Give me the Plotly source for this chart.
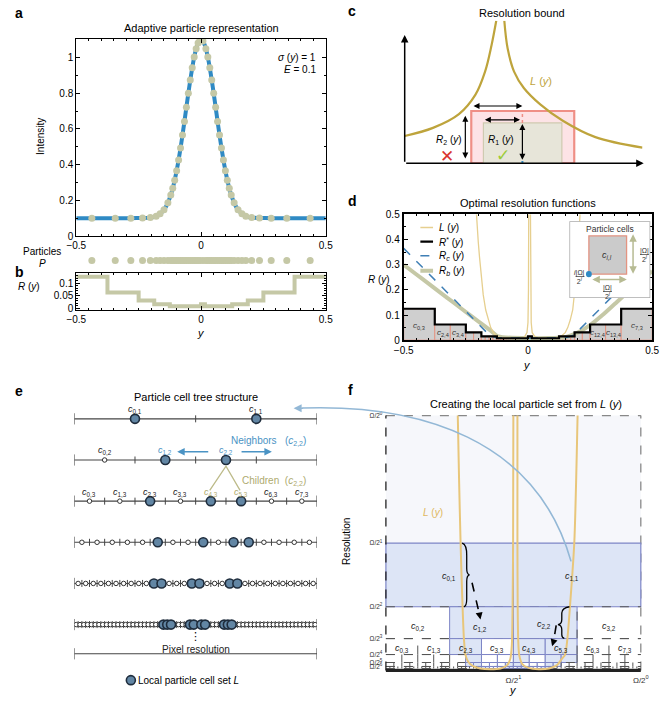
import plotly.graph_objects as go

W, H = 668, 704
FONT = "Liberation Sans, Arial, Helvetica, sans-serif"
BLUE = "#2f8ac4"
TAN = "#c5c8a6"
GOLD = "#bea43c"
LGOLD = "#e6cf8f"
CELLBLUE = "#dde5f6"
CELLEDGE = "#7d85c6"
DOTBLUE = "#6286a4"
NAVY = "#1f2d3d"
TXTBLUE = "#4a93c4"
TXTTAN = "#aeaa6e"

# ---------------- Panel a / b data ----------------
particle_pos = [-0.4375, -0.3438, -0.2813, -0.2344, -0.2031, -0.1797, -0.1641, -0.1484, -0.1328,
                -0.1211, -0.1133, -0.1055, -0.0977, -0.0898, -0.0820, -0.0742, -0.0664, -0.0586,
                -0.0508, -0.0430, -0.0352, -0.0273, -0.0195, -0.0117, -0.0039, 0.0078,
                0.0195, 0.0273, 0.0352, 0.0430, 0.0508, 0.0586, 0.0664, 0.0742, 0.0820, 0.0898,
                0.0977, 0.1055, 0.1133, 0.1211, 0.1328, 0.1484, 0.1641, 0.1797, 0.2031, 0.2344,
                0.2813, 0.3438, 0.4375]
particle_int = [0.100, 0.100, 0.100, 0.101, 0.103, 0.111, 0.124, 0.147, 0.186,
                0.230, 0.268, 0.313, 0.366, 0.426, 0.493, 0.566, 0.642, 0.721,
                0.799, 0.874, 0.942, 1.002, 1.049, 1.081, 1.098, 1.092,
                1.049, 1.002, 0.942, 0.874, 0.799, 0.721, 0.642, 0.566, 0.493, 0.426,
                0.366, 0.313, 0.268, 0.230, 0.186, 0.147, 0.124, 0.111, 0.103, 0.101,
                0.100, 0.100, 0.100]
baseline_ends_x = [-0.5, 0.5]
baseline_ends_v = [0.1, 0.1]

b_edges = [-0.5, -0.375, -0.25, -0.1875, -0.125, 0.0, 0.015625, 0.125, 0.1875, 0.25, 0.375, 0.5]
b_R = [0.125, 0.0625, 0.03125, 0.015625, 0.0078, 0.015625, 0.0078, 0.015625, 0.03125, 0.0625, 0.125]

# ---------------- Panel c (schematic units) ----------------
c_L_left_x = [0.0, 1.19, 2.28, 2.97, 3.38, 3.65, 3.85]
c_L_left_y = [1.15, 1.49, 2.07, 2.88, 3.86, 4.96, 6.0]
c_L_right_x = [4.19, 4.33, 4.6, 5.01, 5.7, 6.65, 8.02, 10.0]
c_L_right_y = [6.0, 4.83, 3.86, 3.17, 2.48, 1.79, 1.1, 0.66]
c_cell2 = [2.8, 7.13, 2.2]    # x0, x1, height (R2)
c_cell1 = [3.31, 6.61, 1.7]   # x0, x1, height (R1)
c_ypos = 4.95

# ---------------- Panel d ----------------
d_L_y = [-0.215, -0.21, -0.205, -0.2, -0.195, -0.19, -0.185, -0.18, -0.17, -0.16, -0.15, -0.14, -0.13,
         -0.12, -0.11, -0.09, -0.06, -0.03, -0.015, -0.004, 0.0, 0.002, 0.003, 0.0035, 0.0095, 0.01,
         0.011, 0.013, 0.017, 0.025, 0.035, 0.05, 0.08, 0.1, 0.12, 0.13, 0.14, 0.15, 0.16, 0.17,
         0.18, 0.19, 0.195, 0.2, 0.205, 0.21, 0.215]
d_L_v = [0.62, 0.53, 0.46, 0.39, 0.33, 0.27, 0.22, 0.18, 0.12, 0.08, 0.05, 0.032, 0.02,
         0.014, 0.01, 0.008, 0.007, 0.008, 0.011, 0.03, 0.07, 0.2, 0.5, 0.8, 0.8, 0.5,
         0.2, 0.07, 0.03, 0.018, 0.011, 0.008, 0.007, 0.008, 0.01, 0.013, 0.02, 0.03, 0.05, 0.08,
         0.12, 0.2, 0.26, 0.33, 0.41, 0.5, 0.6]
d_Rc_y = [-0.5, -0.15, -0.12, 0.0, 0.15, 0.185, 0.5]
d_Rc_v = [0.365, 0.015, 0.01, 0.008, 0.01, 0.02, 0.335]
d_Rb_y = [-0.5, -0.45, -0.4, -0.35, -0.3, -0.25, -0.2, -0.15, -0.12, 0.0,
          0.15, 0.2, 0.25, 0.3, 0.35, 0.4, 0.45, 0.5]
d_Rb_v = [0.3, 0.262, 0.225, 0.187, 0.15, 0.112, 0.075, 0.038, 0.015, 0.008,
          0.012, 0.03, 0.06, 0.1, 0.145, 0.19, 0.232, 0.275]
d_cell_levels = ([3, 4, 4, 5, 5, 6, 6, 6, 6] + [7] * 16 + [6] + [7] * 14 +
                 [6, 6, 6, 6, 5, 5, 4, 4, 3])
d_cell_labels = [("0,3", -0.4375, 0.055), ("2,4", -0.34375, 0.027), ("3,4", -0.28125, 0.027),
                 ("12,4", 0.28125, 0.027), ("13,4", 0.34375, 0.027), ("7,3", 0.4375, 0.055)]

# ---------------- Panel e / f ----------------
e_levels = [1, 2, 3, 4, 5, 6]
e_local_l1 = [0, 1]
e_local_l2 = [1, 2]
e_local_l3 = [2, 4, 5]
e_local_l4 = [5, 8, 10, 11]
e_local_l5 = [10, 11, 15, 16, 20, 21]
e_local_l6 = [23, 24, 25, 30, 31, 33, 34, 39, 40, 41]
e_absent_l2 = [3]
e_local = {1: e_local_l1, 2: e_local_l2, 3: e_local_l3, 4: e_local_l4, 5: e_local_l5, 6: e_local_l6}

f_L_left_x = [0.282, 0.287, 0.293, 0.299, 0.306, 0.312, 0.322, 0.34, 0.37, 0.41, 0.45, 0.475, 0.488,
              0.494, 0.497, 0.499, 0.5]
f_L_left_y = [1.0, 0.75, 0.5, 0.3, 0.125, 0.0625, 0.035, 0.018, 0.008, 0.005, 0.008, 0.02, 0.045,
              0.1, 0.25, 0.5, 1.0]
f_L_right_x = [0.516, 0.516, 0.517, 0.519, 0.523, 0.535, 0.56, 0.6, 0.64, 0.67, 0.69, 0.703, 0.712,
               0.722, 0.739, 0.752]
f_L_right_y = [1.0, 0.5, 0.25, 0.12, 0.06, 0.025, 0.01, 0.005, 0.008, 0.02, 0.045, 0.0625, 0.125,
               0.25, 0.5, 1.0]
f_ytick_vals = [1, 0.5, 0.25, 0.125, 0.0625, 0.03125, 0.015625]
f_ytick_text = ["Ω/2<sup>0</sup>", "Ω/2<sup>1</sup>", "Ω/2<sup>2</sup>", "Ω/2<sup>3</sup>",
                "Ω/2<sup>4</sup>", "Ω/2<sup>5</sup>", "Ω/2<sup>6</sup>"]
f_xtick_vals = [0.5, 1]
f_xtick_text = ["Ω/2<sup>1</sup>", "Ω/2<sup>0</sup>"]

# ---------------- helpers ----------------
def fx(p): return p / W
def fy(p): return 1 - p / H
def dom_x(a, b): return [fx(a), fx(b)]
def dom_y(top, bottom): return [fy(bottom), fy(top)]

fig = go.Figure()
shapes = []
annots = []

def tr(**kw):
    kw.setdefault('showlegend', False)
    kw.setdefault('hoverinfo', 'skip')
    fig.add_trace(go.Scatter(**kw))

def txt(x, y, s, xref='paper', yref='paper', size=10, color='black', xa='center', ya='middle',
        angle=0, family=FONT):
    annots.append(dict(x=x, y=y, text=s, xref=xref, yref=yref, showarrow=False,
                       font=dict(size=size, color=color, family=family),
                       xanchor=xa, yanchor=ya, textangle=angle))

def ptxt(px_, py_, s, **kw):
    txt(fx(px_), fy(py_), s, **kw)

def arrow(x, y, ax, ay, xr, yr, color='black', width=1.2, head=2, double=False, size=1.0):
    d = dict(x=x, y=y, ax=ax, ay=ay, xref=xr, yref=yr, axref=xr, ayref=yr, showarrow=True,
             arrowhead=head, arrowcolor=color, arrowwidth=width, arrowsize=size, text='',
             standoff=0, startstandoff=0)
    if double:
        d['arrowside'] = 'end+start'
        d['startarrowhead'] = head
        d['startarrowsize'] = size
    annots.append(d)

def rect(xr, yr, x0, y0, x1, y1, fill, lc, lw=1.0, dash='solid', layer='below'):
    shapes.append(dict(type='rect', xref=xr, yref=yr, x0=x0, y0=y0, x1=x1, y1=y1,
                       fillcolor=fill, line=dict(color=lc, width=lw, dash=dash), layer=layer))

def seg(xr, yr, x0, y0, x1, y1, color, width=1.0, dash='solid', layer='below'):
    shapes.append(dict(type='line', xref=xr, yref=yr, x0=x0, y0=y0, x1=x1, y1=y1,
                       line=dict(color=color, width=width, dash=dash), layer=layer))

TICKC = '#444'
def tick_marker(size):
    return dict(symbol='line-ns-open', size=size, color=TICKC, line=dict(color=TICKC, width=1))

# ================= Panel a =================
tr(x=baseline_ends_x[:1] + particle_pos + baseline_ends_x[1:],
   y=baseline_ends_v[:1] + particle_int + baseline_ends_v[1:],
   mode='lines', line=dict(color=BLUE, width=4, shape='spline', smoothing=0.6),
   xaxis='x', yaxis='y')
tr(x=particle_pos, y=particle_int, mode='markers', marker=dict(color=TAN, size=7),
   xaxis='x', yaxis='y')
tr(x=particle_pos, y=[0] * len(particle_pos), mode='markers', marker=dict(color=TAN, size=7),
   xaxis='x2', yaxis='y2')

# ================= Panel b =================
tr(x=b_edges, y=b_R + b_R[-1:], mode='lines', line=dict(color=TAN, width=4, shape='hv'),
   xaxis='x3', yaxis='y3')

# ================= Panel c =================
rect('x4', 'y4', c_cell2[0], 0, c_cell2[1], c_cell2[2], '#fde3e6', '#ef8f86', lw=2.2)
rect('x4', 'y4', c_cell1[0], 0, c_cell1[1], c_cell1[2], '#e7e5d9', '#cfcab0', lw=1.2)
tr(x=c_L_left_x, y=c_L_left_y, mode='lines', line=dict(color=GOLD, width=2.2, shape='spline'),
   xaxis='x4', yaxis='y4')
tr(x=c_L_right_x, y=c_L_right_y, mode='lines', line=dict(color=GOLD, width=2.2, shape='spline'),
   xaxis='x4', yaxis='y4')
seg('x4', 'y4', c_ypos, c_cell1[2], c_ypos, c_cell2[2], '#ef8f86', width=1.5, dash='dot', layer='above')
seg('x4', 'y4', c_ypos, -0.12, c_ypos, 0.1, BLUE, width=2, layer='above')
arrow(0, 5.4, 0, 0, 'x4', 'y4', width=1.5, head=2)
arrow(10.05, 0, 0, 0, 'x4', 'y4', width=1.5, head=2)
arrow(c_ypos, 2.41, c_cell2[0] + 0.03, 2.41, 'x4', 'y4', width=1.2, double=True)
arrow(c_ypos - 0.1, 1.83, c_cell1[0], 1.83, 'x4', 'y4', width=1.2, double=True)
arrow(2.55, c_cell2[2] - 0.2, 2.55, 0.14, 'x4', 'y4', width=1.2, double=True)
arrow(c_ypos, c_cell1[2] - 0.05, c_ypos, 0.08, 'x4', 'y4', width=1.2, double=True)
txt(-0.59, 2.6, "<i>R</i> (<i>y</i>)", 'x4', 'y4', size=11)
txt(5.75, 3.45, "<i>L</i> (<i>y</i>)", 'x4', 'y4', size=11, color=GOLD)
txt(1.87, 0.96, "<i>R</i><sub>2</sub> (<i>y</i>)", 'x4', 'y4', size=10)
txt(4.06, 0.96, "<i>R</i><sub>1</sub> (<i>y</i>)", 'x4', 'y4', size=10)
txt(1.76, 0.3, "✕", 'x4', 'y4', size=17, color='#d9352f', family='DejaVu Sans')
txt(4.13, 0.34, "✓", 'x4', 'y4', size=17, color='#9ccc3a', family='DejaVu Sans')
txt(c_ypos, -0.45, "<i>y</i>", 'x4', 'y4', size=11)

# ================= Panel d =================
xs = [-0.5]
for lv in d_cell_levels:
    xs.append(xs[-1] + 1.0 / 2 ** lv)
sizes = [1.0 / 2 ** lv for lv in d_cell_levels]
for i, lv in enumerate(d_cell_levels):
    rect('x5', 'y5', xs[i], 0, xs[i + 1], sizes[i], '#cfcfcf', '#e39482', lw=1.0)
tr(x=d_Rb_y, y=d_Rb_v, mode='lines', line=dict(color=TAN, width=4, shape='spline', smoothing=0.5),
   xaxis='x5', yaxis='y5')
tr(x=d_L_y, y=d_L_v, mode='lines', line=dict(color=LGOLD, width=1.3), xaxis='x5', yaxis='y5')
tr(x=d_Rc_y, y=d_Rc_v, mode='lines', line=dict(color='#3f7fb5', width=1.5, dash='dash'),
   xaxis='x5', yaxis='y5')
tr(x=xs, y=sizes + sizes[-1:], mode='lines', line=dict(color='black', width=2.2, shape='hv'),
   xaxis='x5', yaxis='y5')
for lab, xx, yy in d_cell_labels:
    txt(xx, yy, "<i>c</i><sub>%s</sub>" % lab, 'x5', 'y5', size=8, color='#333')
# legend
leg = [(0.448, LGOLD, 1.3, 'solid', "<i>L</i> (<i>y</i>)"),
       (0.392, 'black', 2.2, 'solid', "<i>R</i><sup>*</sup> (<i>y</i>)"),
       (0.336, '#3f7fb5', 1.5, 'dash', "<i>R<sub>c</sub></i> (<i>y</i>)"),
       (0.276, TAN, 4, 'solid', "<i>R<sub>b</sub></i> (<i>y</i>)")]
for yy, col, wd, ds, lab in leg:
    seg('x5', 'y5', -0.433, yy, -0.382, yy, col, width=wd, dash=ds, layer='above')
    txt(-0.368, yy, lab, 'x5', 'y5', size=10, xa='left')
# inset
rect('x6', 'y6', 0, 0, 1, 1, 'white', '#aaaaaa', lw=1.5, layer='above')
rect('x6', 'y6', 0.241, 0.31, 0.707, 0.81, '#cbcbcb', '#e39482', lw=1.3, layer='above')
shapes.append(dict(type='circle', xref='x6', yref='y6', x0=0.205, y0=0.27, x1=0.277, y1=0.35,
                   fillcolor=BLUE, line=dict(color=BLUE, width=0), layer='above'))
arrow(0.787, 0.83, 0.787, 0.295, 'x6', 'y6', color='#b7bb93', width=1.5, double=True)
arrow(0.71, 0.24, 0.265, 0.24, 'x6', 'y6', color='#b7bb93', width=1.5, double=True)
txt(0.5, 0.905, "Particle cells", 'x6', 'y6', size=8.5, color='#333')
txt(0.47, 0.56, "<i>c</i><sub><i>i,l</i></sub>", 'x6', 'y6', size=9, color='#333')
txt(0.93, 0.56, "<u>|Ω|</u><br>2<sup><i>l</i></sup>", 'x6', 'y6', size=7, color='#333')
txt(0.13, 0.27, "<i>i</i><u>|Ω|</u><br>2<sup><i>l</i></sup>", 'x6', 'y6', size=7, color='#333')
txt(0.47, 0.08, "<u>|Ω|</u><br>2<sup><i>l</i></sup>", 'x6', 'y6', size=7, color='#333')

# ================= Panel e =================
for lv in e_levels:
    n = 2 ** lv
    tr(x=[0, 1], y=[lv, lv], mode='lines', line=dict(color=TICKC, width=1.1), xaxis='x7', yaxis='y7')
    inner = [k / n for k in range(1, n)]
    tr(x=inner, y=[lv] * len(inner), mode='markers', marker=tick_marker(5),
       xaxis='x7', yaxis='y7')
    tr(x=[0, 1], y=[lv, lv], mode='markers', marker=tick_marker(8), xaxis='x7', yaxis='y7')
    loc = e_local[lv]
    absent = e_absent_l2 if lv == 2 else []
    small = [(k + 0.5) / n for k in range(n) if k not in loc and k not in absent]
    tr(x=small, y=[lv] * len(small), mode='markers',
       marker=dict(symbol='circle', size=4.5, color='white', line=dict(color='#333', width=1)),
       xaxis='x7', yaxis='y7')
    big = [(k + 0.5) / n for k in loc]
    tr(x=big, y=[lv] * len(big), mode='markers',
       marker=dict(symbol='circle', size=9, color=DOTBLUE, line=dict(color=NAVY, width=1.6)),
       xaxis='x7', yaxis='y7')
    lab = "<i>l</i><sub>min</sub>=1" if lv == 1 else "<i>l</i>=%d" % lv
    txt(-0.045, lv, lab, 'x7', 'y7', size=11, xa='right')
    if lv <= 3:
        for k in range(n):
            if k in absent:
                continue
            col = '#222'
            if lv == 2 and k in (1, 2, 3):
                col = TXTBLUE
            if lv == 3 and k in (4, 5):
                col = TXTTAN
            txt((k + 0.5) / n, lv - 0.22, "<i>c</i><sub>%d,%d</sub>" % (k, lv), 'x7', 'y7',
                size=9, color=col)
# neighbors / children
arrow(0.424, 1.80, 0.558, 1.80, 'x7', 'y7', color=TXTBLUE, width=1.5)
arrow(0.814, 1.80, 0.683, 1.80, 'x7', 'y7', color=TXTBLUE, width=1.5)
txt(0.8, 1.53, "Neighbors   (<i>c</i><sub>2,2</sub>)", 'x7', 'y7', size=10, color=TXTBLUE)
tr(x=[0.558, 0.625, 0.683], y=[2.74, 2.15, 2.74], mode='lines',
   line=dict(color='#bdbb8a', width=1.3), xaxis='x7', yaxis='y7')
txt(0.823, 2.51, "Children  (<i>c</i><sub>2,2</sub>)", 'x7', 'y7', size=10, color=TXTTAN)
# l_max
tr(x=[0, 1], y=[6.71, 6.71], mode='lines+markers', line=dict(color=TICKC, width=1.1),
   marker=tick_marker(8), xaxis='x7', yaxis='y7')
txt(-0.045, 6.78, "<i>l</i><sub>max</sub>", 'x7', 'y7', size=11, xa='right')
txt(-0.085, 6.3, "⋮", 'x7', 'y7', size=11, family='DejaVu Sans')
txt(0.5, 6.3, "⋮", 'x7', 'y7', size=11, family='DejaVu Sans')
txt(0.5, 6.6, "Pixel resolution", 'x7', 'y7', size=10, color='#222')
tr(x=[0.233], y=[7.35], mode='markers',
   marker=dict(symbol='circle', size=9, color=DOTBLUE, line=dict(color=NAVY, width=1.6)),
   xaxis='x7', yaxis='y7')
txt(0.255, 7.35, "Local particle cell set <i>L</i>", 'x7', 'y7', size=10, xa='left')

# ================= Panel f =================
rect('x8', 'y8', 0, 0.5, 1, 1, '#f6f7fb', 'rgba(0,0,0,0)', lw=0)
seg('x8', 'y8', 0, 1, 1, 1, '#888', width=1.3, dash='dash')
seg('x8', 'y8', 1, 0, 1, 1, '#888', width=1.3, dash='dash')
for k in range(2):
    rect('x8', 'y8', k / 2, 0.25, (k + 1) / 2, 0.5, CELLBLUE, CELLEDGE, lw=1.2)
for lv in [2, 3, 4, 5, 6]:
    n = 2 ** lv
    y0, y1 = 1.0 / 2 ** (lv + 1), 1.0 / 2 ** lv
    seg('x8', 'y8', 0, y1, 1, y1, '#555', width=1, dash='dash')
    seg('x8', 'y8', 0, y0, 1, y0, '#555', width=1, dash='dash')
    loc = e_local[lv]
    lo, hi = min(loc), max(loc)
    for k in range(n):
        if lo <= k <= hi:
            rect('x8', 'y8', k / n, y0, (k + 1) / n, y1, CELLBLUE if k in loc else 'white',
                 CELLEDGE, lw=1)
        elif k > 0:
            seg('x8', 'y8', k / n, y0, k / n, y1, '#555', width=1, dash='dash')
seg('x8', 'y8', 0, 1.0 / 256, 1, 1.0 / 256, '#444', width=1.5)
seg('x8', 'y8', 0, 0.0, 1, 0.0, '#222', width=3)
seg('x8', 'y8', 0, 0, 0, 1, '#222', width=1.3, dash='dash')
tr(x=f_L_left_x, y=f_L_left_y, mode='lines', line=dict(color='#e8c67a', width=2, shape='spline', smoothing=0.7),
   xaxis='x8', yaxis='y8')
tr(x=f_L_right_x, y=f_L_right_y, mode='lines', line=dict(color='#e8c67a', width=2, shape='spline', smoothing=0.7),
   xaxis='x8', yaxis='y8')
# braces and dashed arrows
shapes.append(dict(type='path', xref='x8', yref='y8', layer='above',
                   path="M 0.299,0.5 Q 0.318,0.495 0.317,0.45 L 0.317,0.40 Q 0.317,0.377 0.328,0.375 "
                        "Q 0.317,0.373 0.317,0.35 L 0.317,0.28 Q 0.317,0.252 0.306,0.25",
                   line=dict(color='black', width=1.3)))
shapes.append(dict(type='path', xref='x8', yref='y8', layer='above',
                   path="M 0.72,0.25 Q 0.69,0.245 0.69,0.225 L 0.69,0.2 Q 0.69,0.182 0.675,0.18 "
                        "Q 0.69,0.178 0.69,0.16 L 0.69,0.14 Q 0.69,0.128 0.70,0.126",
                   line=dict(color='black', width=1.3)))
seg('x8', 'y8', 0.338, 0.344, 0.367, 0.22, 'black', width=1.6, dash='dash', layer='above')
arrow(0.371, 0.2, 0.367, 0.22, 'x8', 'y8', width=1.4, head=2)
seg('x8', 'y8', 0.668, 0.177, 0.658, 0.115, 'black', width=1.6, dash='dash', layer='above')
arrow(0.652, 0.095, 0.658, 0.115, 'x8', 'y8', width=1.4, head=2)
f_labels = [("0,1", 0.248, 0.37), ("1,1", 0.73, 0.37), ("0,2", 0.125, 0.172), ("1,2", 0.37, 0.168),
            ("2,2", 0.62, 0.18), ("3,2", 0.875, 0.172)]
for lab, xx, yy in f_labels:
    txt(xx, yy, "<i>c</i><sub>%s</sub>" % lab, 'x8', 'y8', size=9, color='#222')
for k in range(8):
    txt((k + 0.5) / 8, 0.088, "<i>c</i><sub>%d,3</sub>" % k, 'x8', 'y8', size=9, color='#222')
txt(0.185, 0.62, "<i>L</i> (<i>y</i>)", 'x8', 'y8', size=10, color='#e0b860')
# blue link arrow from f to e
shapes.append(dict(type='path', xref='paper', yref='paper', layer='above',
                   path="M %f,%f C %f,%f %f,%f %f,%f" % (fx(575.7), fy(565), fx(540), fy(440),
                                                           fx(420), fy(405), fx(300), fy(409)),
                   line=dict(color='#93b8d6', width=1.6)))
annots.append(dict(x=fx(291), y=fy(409.2), xref='paper', yref='paper', ax=11, ay=0, text='',
                   showarrow=True, arrowhead=2, arrowcolor='#93b8d6', arrowwidth=1.6, standoff=0))

# ================= text: titles, labels =================
ptxt(3, 7, "<b>a</b>", size=14, xa='left')
ptxt(3, 271, "<b>b</b>", size=14, xa='left')
ptxt(345, 5, "<b>c</b>", size=14, xa='left')
ptxt(345, 198, "<b>d</b>", size=14, xa='left')
ptxt(3, 392, "<b>e</b>", size=14, xa='left')
ptxt(345, 391, "<b>f</b>", size=14, xa='left')
ptxt(196, 22, "Adaptive particle representation", size=11)
ptxt(525, 7, "Resolution bound", size=11)
ptxt(532, 200.5, "Optimal resolution functions", size=11)
ptxt(190.5, 397.5, "Particle cell tree structure", size=11)
ptxt(529, 405, "Creating the local particle set from <i>L</i> (<i>y</i>)", size=11)
ptxt(316, 52, "<i>σ</i> (<i>y</i>) = 1", size=10, xa='right')
ptxt(316, 64.5, "<i>E</i> = 0.1", size=10, xa='right')
ptxt(32, 133, "Intensity", size=10, angle=-90)
ptxt(33, 250, "Particles", size=10)
ptxt(33, 262, "<i>P</i>", size=10)
ptxt(19, 285, "<i>R</i> (<i>y</i>)", size=10)
ptxt(196, 333, "<i>y</i>", size=11)
ptxt(379, 278, "<i>R</i> (<i>y</i>)", size=10)
ptxt(531, 365, "<i>y</i>", size=11)
ptxt(346, 545, "Resolution", size=10, angle=-90)
ptxt(516, 696, "<i>y</i>", size=11)

# ================= axes =================
def boxed(rng, dom, anchor, dtick, minor, lw=1.0, **kw):
    d = dict(range=rng, domain=dom, anchor=anchor, showline=True, linecolor='black', linewidth=lw,
             mirror='ticks', ticks='inside', ticklen=4, tickwidth=1, tickcolor='black',
             showgrid=False, zeroline=False, dtick=dtick, tick0=0, ticklabeloverflow='allow',
             tickfont=dict(size=10, family=FONT, color='black'),
             minor=dict(ticks='inside', ticklen=2, dtick=minor, tick0=0, tickcolor='black', showgrid=False))
    d.update(kw)
    return d

hidden = dict(visible=False, showgrid=False, zeroline=False)
XA = dom_x(68, 324)
fig.update_layout(
    width=W, height=H, margin=dict(l=0, r=0, t=0, b=0),
    paper_bgcolor='white', plot_bgcolor='rgba(0,0,0,0)',
    font=dict(family=FONT, size=10, color='black'),
    xaxis=boxed([-0.5, 0.5], XA, 'y', 0.5, 0.05),
    yaxis=boxed([0, 1.105], dom_y(33.3, 234), 'x', 0.2, 0.1),
    xaxis2=dict(range=[-0.5, 0.5], domain=XA, anchor='y2', **hidden),
    yaxis2=dict(range=[-1, 1], domain=dom_y(252, 266), anchor='x2', **hidden),
    xaxis3=boxed([-0.5, 0.5], XA, 'y3', 0.5, 0.05),
    yaxis3=boxed([-0.006, 0.14], dom_y(271.7, 309), 'x3', 0.05, 0.01),
    xaxis4=dict(range=[0, 10], domain=dom_x(405, 649), anchor='y4', **hidden),
    yaxis4=dict(range=[0, 6], domain=dom_y(15, 160), anchor='x4', **hidden),
    xaxis5=boxed([-0.5, 0.5], dom_x(404, 659), 'y5', 0.5, 0.05, lw=2),
    yaxis5=boxed([0, 0.5], dom_y(212, 340), 'x5', 0.1, 0.05, lw=2),
    xaxis6=dict(range=[0, 1], domain=dom_x(574, 657), anchor='y6', **hidden),
    yaxis6=dict(range=[0, 1], domain=dom_y(219, 297), anchor='x6', **hidden),
    xaxis7=dict(range=[0, 1], domain=dom_x(66, 315), anchor='y7', **hidden),
    yaxis7=dict(range=[7.784, 0.0444], domain=[0, fy(380)], anchor='x7', **hidden),
    xaxis8=dict(range=[-0.01, 1.01], domain=dom_x(383.1, 649.9), anchor='y8', showgrid=False,
                zeroline=False, showline=False, ticks='', tickvals=f_xtick_vals, ticktext=f_xtick_text,
                tickfont=dict(size=8, color='#333')),
    yaxis8=dict(range=[-0.012, 1.01], domain=dom_y(414.1, 679.1), anchor='x8', showgrid=False,
                zeroline=False, showline=False, ticks='', tickvals=f_ytick_vals, ticktext=f_ytick_text,
                tickfont=dict(size=6.5, color='#333')),
    shapes=shapes, annotations=annots,
)

fig.write_html("out.html", config={'displayModeBar': False},
               post_script="document.body.style.margin='0px';document.body.style.overflow='hidden';")
